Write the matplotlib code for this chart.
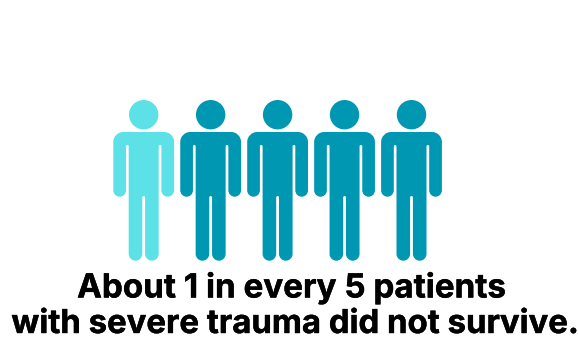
import matplotlib
matplotlib.use("Agg")
import matplotlib.pyplot as plt
import matplotlib.patheffects as pe
from matplotlib.path import Path
from matplotlib.patches import PathPatch, Circle

# Outcome counts out of every five patients
outcomes = ["did not survive", "survived"]
counts = [1, 4]
outcome_colors = ["#5CE1E6", "#0097B2"]
caption_lines = ["About 1 in every 5 patients", "with severe trauma did not survive."]

WIDTH, HEIGHT = 578, 341
KAPPA = 0.5523


def rounded_outline(corners):
    """Closed path through (x, y, radius) corners with circular-looking fillets."""
    verts, codes = [], []
    n = len(corners)
    for i, (x, y, r) in enumerate(corners):
        px, py, _ = corners[i - 1]
        nx, ny, _ = corners[(i + 1) % n]
        d1 = ((px - x) ** 2 + (py - y) ** 2) ** 0.5
        d2 = ((nx - x) ** 2 + (ny - y) ** 2) ** 0.5
        ux, uy = (px - x) / d1, (py - y) / d1
        vx, vy = (nx - x) / d2, (ny - y) / d2
        a = (x + ux * r, y + uy * r)
        b = (x + vx * r, y + vy * r)
        k = r * (1 - KAPPA)
        verts.append(a)
        codes.append(Path.MOVETO if i == 0 else Path.LINETO)
        verts += [(x + ux * k, y + uy * k), (x + vx * k, y + vy * k), b]
        codes += [Path.CURVE4] * 3
    verts.append(verts[0])
    codes.append(Path.CLOSEPOLY)
    return Path(verts, codes)


def person_path(cx, top):
    # right half of the body, from shoulder to inner leg
    half = [
        (30.4, 0, 10), (30.4, 64.7, 6.35), (17.7, 64.7, 6.35), (17.7, 13, 1.3),
        (15, 13, 1.3), (15, 128.7, 6.8), (1.4, 128.7, 6.8), (1.4, 64, 1.4),
    ]
    mirrored = [(-x, y, r) for x, y, r in reversed(half)]
    return rounded_outline([(cx + x, top + y, r) for x, y, r in half + mirrored])


fig = plt.figure(figsize=(WIDTH / 100, HEIGHT / 100), dpi=100, facecolor="white")
ax = fig.add_axes([0, 0, 1, 1])
ax.set_xlim(0, WIDTH)
ax.set_ylim(HEIGHT, 0)
ax.axis("off")

first_x, step, shoulder_y = 143.7, 66.95, 132
colors = [c for c, n in zip(outcome_colors, counts) for _ in range(n)]
for i, color in enumerate(colors):
    cx = first_x + i * step
    ax.add_patch(Circle((cx, 114.7), 14.7, fc=color, ec="none"))
    ax.add_patch(PathPatch(person_path(cx, shoulder_y), fc=color, ec="none"))

font = dict(family="Inter", weight="bold", color="#000000", ha="center", va="baseline")
heavier = [pe.withStroke(linewidth=0.3, foreground="#000000")]
ax.text(291.8, 297.5, caption_lines[0], fontsize=23.9, path_effects=heavier, **font)
ax.text(294.5, 333, caption_lines[1], fontsize=23.7, path_effects=heavier, **font)

fig.savefig("out.png", dpi=100, facecolor="white")
